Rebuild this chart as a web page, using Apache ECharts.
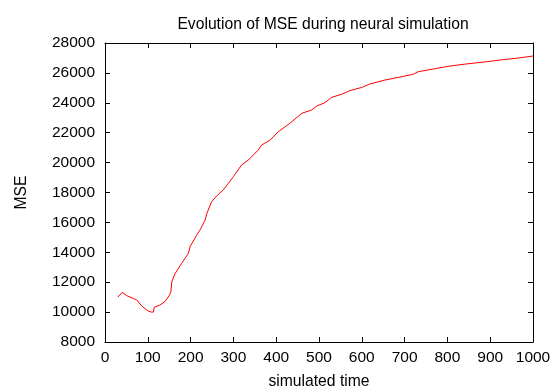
<!DOCTYPE html>
<html>
<head>
<meta charset="utf-8">
<script src="https://cdn.jsdelivr.net/npm/echarts@6/dist/echarts.min.js"></script>
<style>html,body{margin:0;padding:0;background:#fff;}#c{width:560px;height:389px;}</style>
</head>
<body>
<div id="c"></div>
<script>
const times = [30, 33, 40, 51, 66, 74, 86, 101, 108, 113, 115, 128, 140, 150, 154, 156, 164, 179, 195, 199, 210, 214, 222, 234, 238, 249, 262, 276, 300, 319, 335, 358, 366, 386, 405, 432, 460, 483, 495, 514, 530, 553, 572, 600, 619, 654, 689, 720, 724, 732, 767, 806, 845, 892, 923, 962, 1000];
const mse = [11000, 11100, 11320, 11095, 10920, 10810, 10400, 10070, 10000, 10000, 10320, 10470, 10700, 11100, 11360, 12030, 12590, 13260, 13930, 14400, 14930, 15150, 15490, 16160, 16600, 17380, 17800, 18160, 19060, 19840, 20170, 20840, 21180, 21510, 22070, 22630, 23300, 23520, 23790, 24010, 24370, 24570, 24810, 25030, 25260, 25520, 25720, 25910, 25970, 26080, 26260, 26460, 26600, 26750, 26860, 26980, 27130];
const titleText = 'Evolution of MSE during neural simulation';
const xName = 'simulated time';
const yName = 'MSE';

const font = 'Liberation Sans, Arial, sans-serif';
const chart = echarts.init(document.getElementById('c'), null, {renderer: 'canvas'});
const tick = {show: true, inside: true, length: 5, lineStyle: {color: '#000', width: 1}};
const plain = v => String(v);
chart.setOption({
  animation: false,
  backgroundColor: '#fff',
  title: {text: titleText, left: 318, top: 12, textAlign: 'center',
    textStyle: {fontFamily: font, fontSize: 15.7, fontWeight: 'normal', color: '#000'}},
  grid: {left: 105, right: 27, top: 43, bottom: 47, containLabel: false, outerBoundsMode: 'none'},
  xAxis: [
    {type: 'value', min: 0, max: 1000, interval: 100, position: 'bottom',
     name: xName, nameLocation: 'middle', nameGap: 32,
     nameTextStyle: {fontFamily: font, fontSize: 15.7, color: '#000'},
     axisLine: {onZero: false, lineStyle: {color: '#000', width: 1}},
     axisTick: tick, splitLine: {show: false},
     axisLabel: {fontFamily: font, fontSize: 15.5, color: '#000', margin: 8, formatter: plain}},
    {type: 'value', min: 0, max: 1000, interval: 100, position: 'top',
     axisLine: {onZero: false, lineStyle: {color: '#000', width: 1}},
     axisTick: tick, splitLine: {show: false}, axisLabel: {show: false}}
  ],
  yAxis: [
    {type: 'value', min: 8000, max: 28000, interval: 2000, position: 'left',
     name: yName, nameLocation: 'middle', nameGap: 75, nameRotate: 90,
     nameTextStyle: {fontFamily: font, fontSize: 15.7, color: '#000'},
     axisLine: {show: true, onZero: false, lineStyle: {color: '#000', width: 1}},
     axisTick: tick, splitLine: {show: false},
     axisLabel: {fontFamily: font, fontSize: 15.5, color: '#000', margin: 10, formatter: plain}},
    {type: 'value', min: 8000, max: 28000, interval: 2000, position: 'right',
     axisLine: {show: true, onZero: false, lineStyle: {color: '#000', width: 1}},
     axisTick: tick, splitLine: {show: false}, axisLabel: {show: false}}
  ],
  series: [{
    type: 'line', xAxisIndex: 0, yAxisIndex: 0,
    data: times.map((t, i) => [t, mse[i]]),
    showSymbol: false, symbol: 'none',
    lineStyle: {color: '#ff0000', width: 1}
  }]
});
</script>
</body>
</html>
